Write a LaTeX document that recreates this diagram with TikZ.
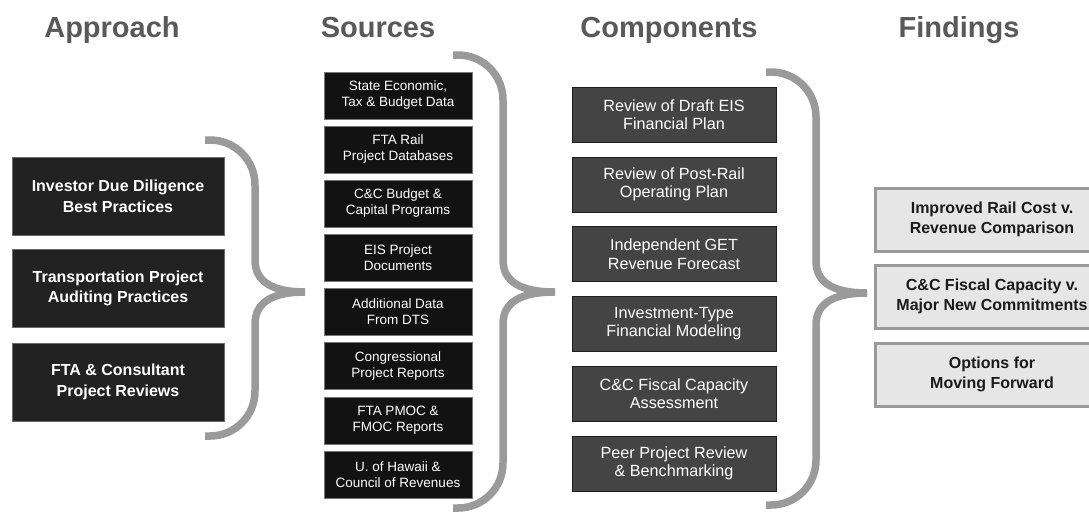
\documentclass[tikz,border=0pt]{standalone}
\usepackage{fontspec}
\setmainfont{Liberation Sans}
\definecolor{titlegray}{HTML}{595959}
\definecolor{bracegray}{HTML}{9A9A9A}
\definecolor{apfill}{HTML}{222222}
\definecolor{apdraw}{HTML}{6A6A6A}
\definecolor{srcfill}{HTML}{121212}
\definecolor{srcdraw}{HTML}{777777}
\definecolor{cmpfill}{HTML}{444444}
\definecolor{cmpdraw}{HTML}{1E1E1E}
\definecolor{fndfill}{HTML}{E6E6E6}
\definecolor{fnddraw}{HTML}{9A9A9A}
\definecolor{fndtext}{HTML}{1A1A1A}
\newcommand{\mybrace}[6]{%
  \draw[bracestyle] (#1,#4) -- ({#2-45},#4) .. controls ({#2-20},#4) and (#2,{#4+20}) .. (#2,{#4+45})
     -- (#2,{#5-32}) .. controls (#2,{#5-10}) and ({#2+18},#5) .. (#3,#5);
  \draw[bracestyle] (#3,#5) .. controls ({#2+18},#5) and (#2,{#5+10}) .. (#2,{#5+32})
     -- (#2,{#6-45}) .. controls (#2,{#6-20}) and ({#2-20},#6) .. ({#2-45},#6) -- (#1,#6);
}
\tikzset{
  title/.style={anchor=base, text=titlegray, font=\fontsize{29}{34}\selectfont\bfseries},
  bracestyle/.style={draw=bracegray, line width=7.5pt, line cap=butt},
  apbox/.style={draw=apdraw, line width=1pt, fill=apfill, text=white, align=center,
    minimum width=212pt, minimum height=78pt, inner sep=0pt,
    font=\fontsize{16}{20.7}\selectfont\bfseries},
  srcbox/.style={draw=srcdraw, line width=1pt, fill=srcfill, text=white, align=center,
    minimum width=148pt, minimum height=47pt, inner sep=0pt,
    font=\fontsize{13.5}{16}\selectfont},
  cmpbox/.style={draw=cmpdraw, line width=1pt, fill=cmpfill, text=white, align=center,
    minimum width=204pt, minimum height=55pt, inner sep=0pt,
    font=\fontsize{16.2}{18.5}\selectfont},
  fndbox/.style={draw=fnddraw, line width=3pt, fill=fndfill, text=fndtext, align=center,
    minimum width=234pt, minimum height=63pt, inner sep=0pt,
    font=\fontsize{16}{20.7}\selectfont\bfseries},
}
\begin{document}
\begin{tikzpicture}[x=1pt,y=-1pt]
\clip (0,0) rectangle (1089,512);
\useasboundingbox (0,0) rectangle (1089,512);
\fill[white] (0,0) rectangle (1089,512);

% titles
\node[title] (tap) at (112,37) {Approach};
\node[title] (tsrc) at (378,37) {Sources};
\node[title] (tcmp) at (669,37) {Components};
\node[title] (tfnd) at (959,37) {Findings};

% approach
\node[apbox] (a1) at (118,196) {Investor Due Diligence\\Best Practices};
\node[apbox] (a2) at (118,288.5) {Transportation Project\\Auditing Practices};
\node[apbox] (a3) at (118,382) {FTA \& Consultant\\Project Reviews};

% sources
\node[srcbox] (s1) at (398,95.5) {State Economic,\\Tax \& Budget Data};
\node[srcbox] (s2) at (398,149.5) {FTA Rail\\Project Databases};
\node[srcbox] (s3) at (398,203.5) {C\&C Budget \&\\Capital Programs};
\node[srcbox] (s4) at (398,257.5) {EIS Project\\Documents};
\node[srcbox] (s5) at (398,312) {Additional Data\\From DTS};
\node[srcbox] (s6) at (398,366) {Congressional\\Project Reports};
\node[srcbox] (s7) at (398,420.5) {FTA PMOC \&\\FMOC Reports};
\node[srcbox] (s8) at (398,474.5) {U. of Hawaii \&\\Council of Revenues};

% components
\node[cmpbox] (c1) at (674,114.5) {Review of Draft EIS\\Financial Plan};
\node[cmpbox] (c2) at (674,184.5) {Review of Post-Rail\\Operating Plan};
\node[cmpbox] (c3) at (674,254) {Independent GET\\Revenue Forecast};
\node[cmpbox] (c4) at (674,323.5) {Investment-Type\\Financial Modeling};
\node[cmpbox] (c5) at (674,393.5) {C\&C Fiscal Capacity\\Assessment};
\node[cmpbox] (c6) at (674,463.5) {Peer Project Review\\\& Benchmarking};

% findings
\node[fndbox] (f1) at (992,219.5) {Improved Rail Cost v.\\Revenue Comparison};
\node[fndbox] (f2) at (992,296.5) {C\&C Fiscal Capacity v.\\Major New Commitments};
\node[fndbox] (f3) at (992,374.5) {Options for\\Moving Forward};

% braces
\mybrace{205}{255}{305}{140}{292}{436}
\mybrace{453}{503}{555}{55}{292}{508}
\mybrace{766}{816}{867}{72}{293}{505}
\end{tikzpicture}
\end{document}
